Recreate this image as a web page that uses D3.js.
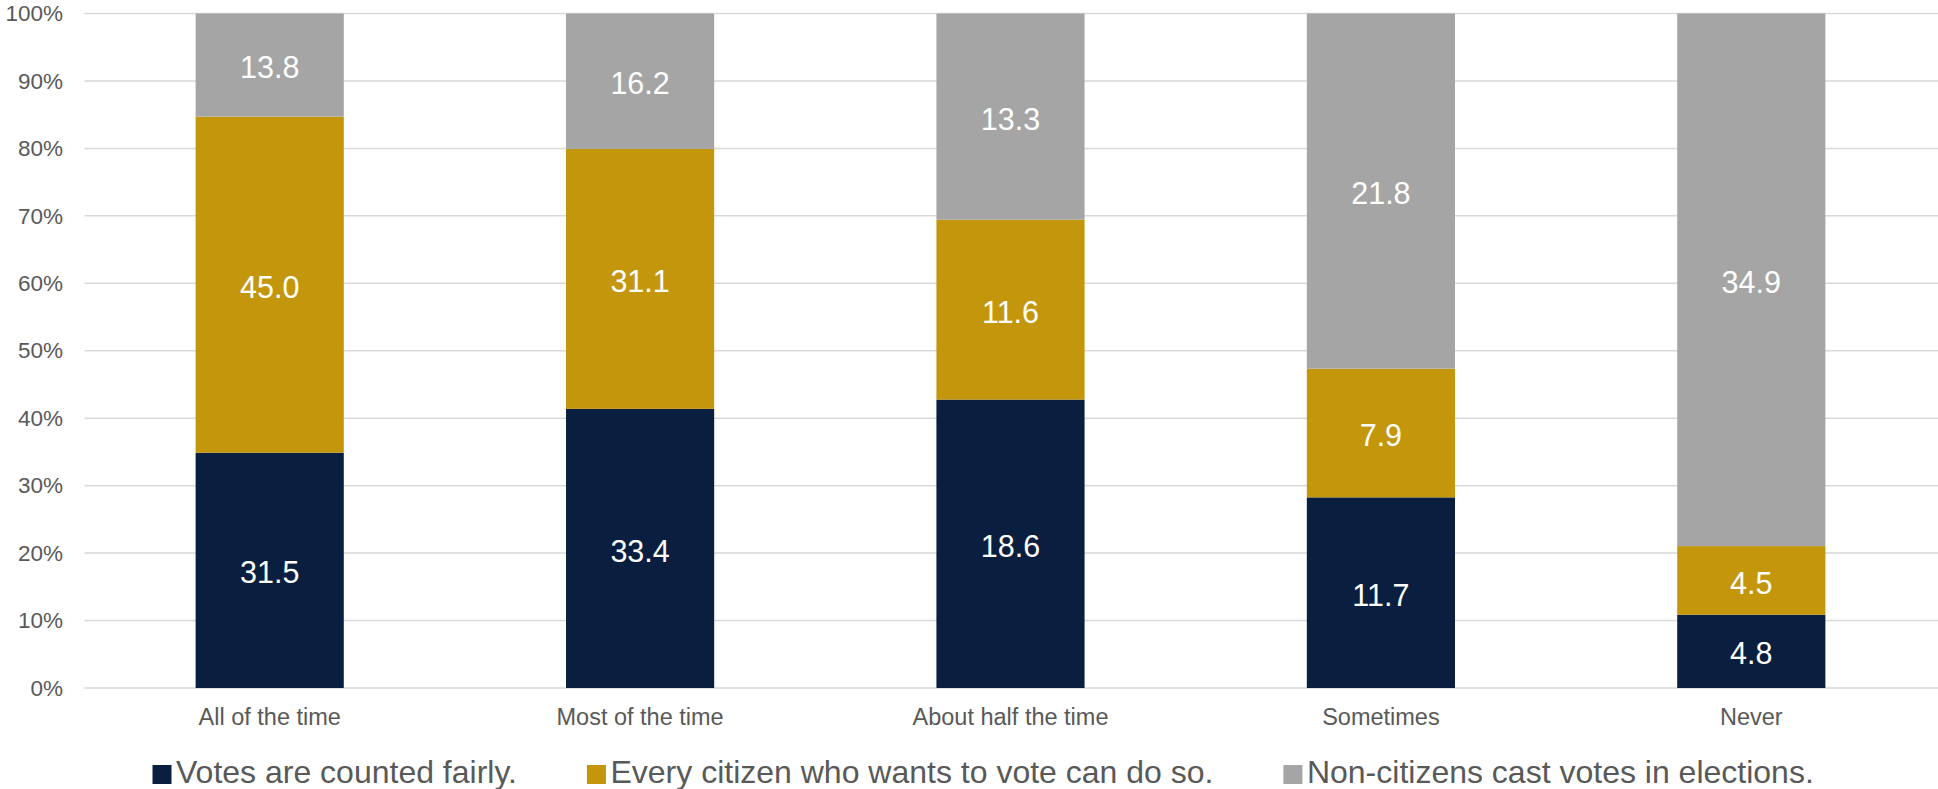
<!DOCTYPE html>
<html>
<head>
<meta charset="utf-8">
<script src="https://cdn.jsdelivr.net/npm/d3@7"></script>
<style>
  html, body { margin: 0; padding: 0; background: #fff; }
  svg { display: block; font-family: "Liberation Sans", Arial, sans-serif; }
</style>
</head>
<body>
<svg id="chart" width="1938" height="789"></svg>
<script>
const categories = ["All of the time", "Most of the time", "About half the time", "Sometimes", "Never"];
const seriesNames = ["Votes are counted fairly.", "Every citizen who wants to vote can do so.", "Non-citizens cast votes in elections."];
const votesCounted = [31.5, 33.4, 18.6, 11.7, 4.8];
const everyCitizen = [45.0, 31.1, 11.6, 7.9, 4.5];
const nonCitizens = [13.8, 16.2, 13.3, 21.8, 34.9];
const yTicks = [0, 0.1, 0.2, 0.3, 0.4, 0.5, 0.6, 0.7, 0.8, 0.9, 1.0];
const colors = ["#0A1F3F", "#C4960C", "#A5A5A5"];

const svg = d3.select("#chart");
const W = 1938, H = 789;
const plot = { left: 84.5, right: 1936.5, top: 13.5, bottom: 688 };

const rows = categories.map((c, i) => ({
  cat: c,
  s0: votesCounted[i],
  s1: everyCitizen[i],
  s2: nonCitizens[i]
}));
const keys = ["s0", "s1", "s2"];
const stack = d3.stack().keys(keys).offset(d3.stackOffsetExpand);
const stacked = stack(rows);

const x = d3.scaleBand().domain(categories).range([plot.left, plot.right])
  .paddingInner(0.6).paddingOuter(0.3);
const y = d3.scaleLinear().domain([0, 1]).range([plot.bottom, plot.top]);

// gridlines
svg.append("g").selectAll("line").data(yTicks).join("line")
  .attr("x1", plot.left).attr("x2", W)
  .attr("y1", d => y(d)).attr("y2", d => y(d))
  .attr("stroke", "#D9D9D9").attr("stroke-width", 1.5);

// y axis labels
const yAxis = d3.axisLeft(y).tickValues(yTicks).tickFormat(d3.format(".0%")).tickSize(0).tickPadding(0);
const gy = svg.append("g").attr("transform", `translate(63,0)`).call(yAxis);
gy.select(".domain").remove();
gy.selectAll("text").attr("fill", "#595959").style("font-size", "22.5px")
  .style("font-family", "'Liberation Sans', Arial, sans-serif");

// bars
const layers = svg.append("g").selectAll("g").data(stacked).join("g")
  .attr("fill", (d, i) => colors[i]);
layers.selectAll("rect").data(d => d).join("rect")
  .attr("x", d => x(d.data.cat))
  .attr("width", x.bandwidth())
  .attr("y", d => y(d[1]))
  .attr("height", d => y(d[0]) - y(d[1]));

// value labels
const labelG = svg.append("g");
stacked.forEach((layer, li) => {
  labelG.selectAll(null).data(layer).join("text")
    .attr("x", d => x(d.data.cat) + x.bandwidth() / 2)
    .attr("y", d => (y(d[0]) + y(d[1])) / 2)
    .attr("text-anchor", "middle")
    .attr("dy", "0.43em")
    .attr("fill", "#fff")
    .style("font-size", "30.5px")
    .text(d => d.data[keys[li]].toFixed(1));
});

// x axis labels
const xAxis = d3.axisBottom(x).tickSize(0).tickPadding(0);
const gx = svg.append("g").attr("transform", `translate(0,${plot.bottom})`).call(xAxis);
gx.select(".domain").remove();
gx.selectAll("text").attr("fill", "#595959").attr("dy", null).attr("y", 37)
  .style("font-size", "23.5px")
  .style("font-family", "'Liberation Sans', Arial, sans-serif");

// legend
const legend = svg.append("g");
let lx = 152.5;
seriesNames.forEach((name, i) => {
  const g = legend.append("g");
  g.append("rect").attr("x", lx).attr("y", 765).attr("width", 19).attr("height", 19).attr("fill", colors[i]);
  const t = g.append("text").attr("x", lx + 23.5).attr("y", 783)
    .attr("fill", "#595959").style("font-size", "32px").text(name);
  const w = t.node().getComputedTextLength();
  lx = lx + 23.5 + w + 70;
});
</script>
</body>
</html>
